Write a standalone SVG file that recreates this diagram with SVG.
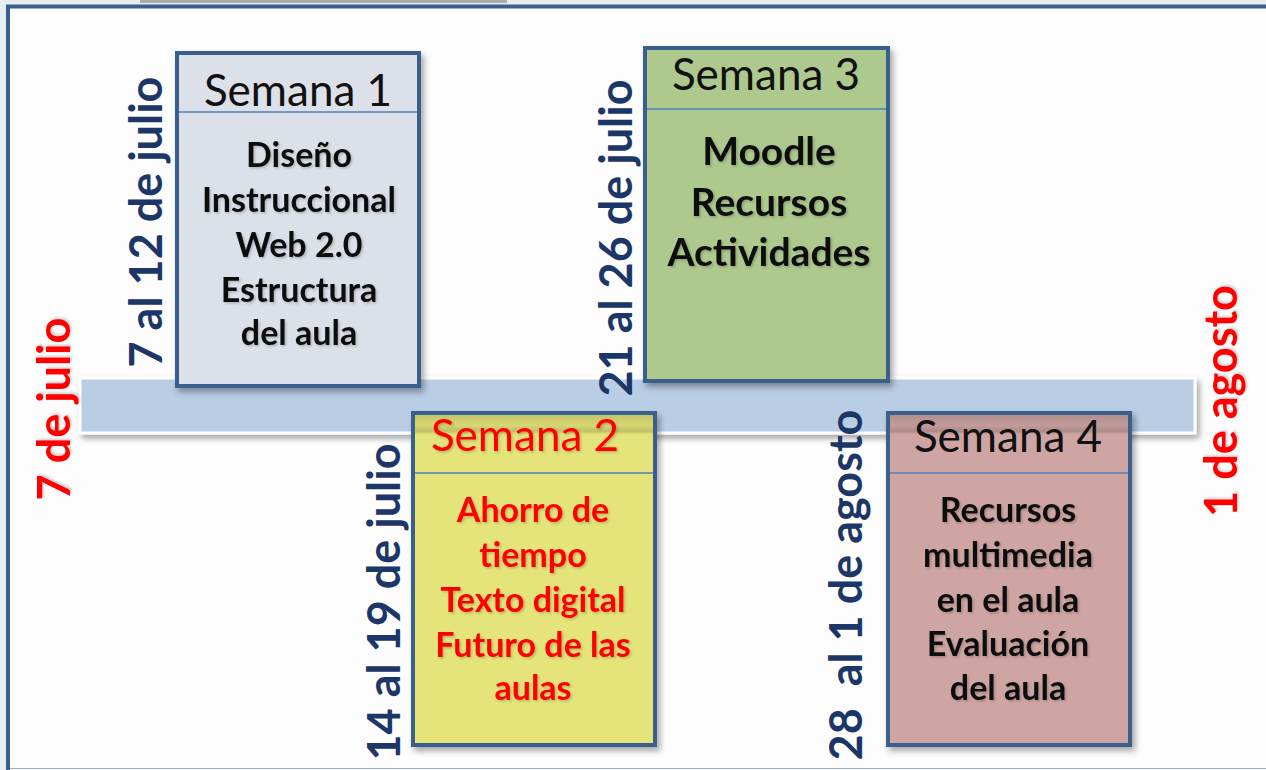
<svg xmlns="http://www.w3.org/2000/svg" width="1266" height="770" viewBox="0 0 1266 770">
  <defs>
    <filter id="boxShadow" x="-10%" y="-10%" width="130%" height="130%">
      <feDropShadow dx="3" dy="4" stdDeviation="3" flood-color="#000" flood-opacity="0.35"/>
    </filter>
    <filter id="txtShadow" x="-10%" y="-10%" width="130%" height="130%">
      <feDropShadow dx="1.5" dy="1.5" stdDeviation="1" flood-color="#000" flood-opacity="0.2"/>
    </filter>
    <linearGradient id="bandShade" x1="0" y1="0" x2="0" y2="1">
      <stop offset="0" stop-color="#000" stop-opacity="0.14"/>
      <stop offset="0.55" stop-color="#000" stop-opacity="0.06"/>
      <stop offset="0.85" stop-color="#000" stop-opacity="0.16"/>
      <stop offset="1" stop-color="#000" stop-opacity="0.02"/>
    </linearGradient>
  </defs>
  <style>
    .box { stroke: #3b5f8c; stroke-width: 4; filter: url(#boxShadow); }
    .div { stroke: #4f81bd; stroke-width: 1.5; }
    .head { font-family: "Lato", "Liberation Sans", sans-serif; font-size: 44px; text-anchor: middle; fill: #111; }
    .body { font-family: "Lato", "Liberation Sans", sans-serif; font-weight: bold; font-size: 34px; text-anchor: middle; fill: #111; filter: url(#txtShadow); }
    .big { font-size: 39px; }
    .red { fill: #ff0000; }
    .date { font-family: "Lato", "Liberation Sans", sans-serif; font-weight: bold; font-size: 45px; text-anchor: middle; fill: #1c3767; }
    .rdate { font-family: "Lato", "Liberation Sans", sans-serif; font-weight: bold; font-size: 45px; text-anchor: middle; fill: #ff0000; filter: url(#txtShadow); }
  </style>

  <!-- background and frame -->
  <rect x="0" y="0" width="1266" height="770" fill="#e8edf2"/>
  <rect x="8" y="6.5" width="1270" height="770" fill="#fdfdfd" stroke="#3a5f8f" stroke-width="4"/>
  <rect x="140" y="0" width="367" height="3" fill="#a9abad"/>
  <line x1="10" y1="768.5" x2="1266" y2="768.5" stroke="#9fb0c6" stroke-width="1"/>

  <!-- timeline bar -->
  <g id="timeline">
    <rect x="80" y="378" width="1115" height="55" fill="#b9cde5" stroke="#ffffff" stroke-width="3" filter="url(#boxShadow)"/>
  </g>

  <g id="connectors"></g>

  <!-- Semana 1 -->
  <g id="node-semana1">
    <rect class="box" x="177" y="53" width="242" height="333" fill="#dce0e8"/>
    <line class="div" x1="179" y1="112" x2="417" y2="112"/>
    <text class="head" x="298" y="106">Semana 1</text>
    <text class="body" x="299" y="167">Diseño</text>
    <text class="body" x="299" y="212">Instruccional</text>
    <text class="body" x="299" y="257">Web 2.0</text>
    <text class="body" x="299" y="302">Estructura</text>
    <text class="body" x="299" y="345">del aula</text>
  </g>

  <!-- Semana 3 -->
  <g id="node-semana3">
    <rect class="box" x="645" y="48" width="243" height="333" fill="#adc98e"/>
    <line class="div" x1="647" y1="109" x2="886" y2="109"/>
    <text class="head" x="766" y="90">Semana 3</text>
    <text class="body big" x="769" y="165">Moodle</text>
    <text class="body big" x="769" y="216">Recursos</text>
    <text class="body big" x="769" y="266">Actividades</text>
  </g>

  <!-- Semana 2 -->
  <g id="node-semana2">
    <rect class="box" x="413" y="413" width="242" height="332" fill="#e4e47a"/>
    <rect x="415" y="415" width="238" height="19" fill="url(#bandShade)"/>
    <line class="div" x1="415" y1="473" x2="653" y2="473"/>
    <text class="head red" x="525" y="451" filter="url(#txtShadow)">Semana 2</text>
    <text class="body red" x="533" y="522">Ahorro de</text>
    <text class="body red" x="533" y="567">tiempo</text>
    <text class="body red" x="533" y="612">Texto digital</text>
    <text class="body red" x="533" y="657">Futuro de las</text>
    <text class="body red" x="533" y="700">aulas</text>
  </g>

  <!-- Semana 4 -->
  <g id="node-semana4">
    <rect class="box" x="888" y="413" width="242" height="332" fill="#cea5a3"/>
    <rect x="890" y="415" width="238" height="19" fill="url(#bandShade)"/>
    <line class="div" x1="890" y1="473" x2="1128" y2="473"/>
    <text class="head" x="1008" y="452">Semana 4</text>
    <text class="body" x="1008" y="522">Recursos</text>
    <text class="body" x="1008" y="567">multimedia</text>
    <text class="body" x="1008" y="612">en el aula</text>
    <text class="body" x="1008" y="656">Evaluación</text>
    <text class="body" x="1008" y="700">del aula</text>
  </g>

  <!-- date labels -->
  <g id="label-7julio"><text class="rdate" transform="translate(70,409) rotate(-90)">7 de julio</text></g>
  <g id="label-semana1-fechas"><text class="date" transform="translate(162,222) rotate(-90)">7 al 12 de julio</text></g>
  <g id="label-semana2-fechas"><text class="date" transform="translate(400,602) rotate(-90)">14 al 19 de julio</text></g>
  <g id="label-semana3-fechas"><text class="date" transform="translate(632,238) rotate(-90)">21 al 26 de julio</text></g>
  <g id="label-semana4-fechas"><text class="date" transform="translate(862,585) rotate(-90)" xml:space="preserve">28  al 1 de agosto</text></g>
  <g id="label-1agosto"><text class="rdate" transform="translate(1237,401) rotate(-90)">1 de agosto</text></g>
</svg>
